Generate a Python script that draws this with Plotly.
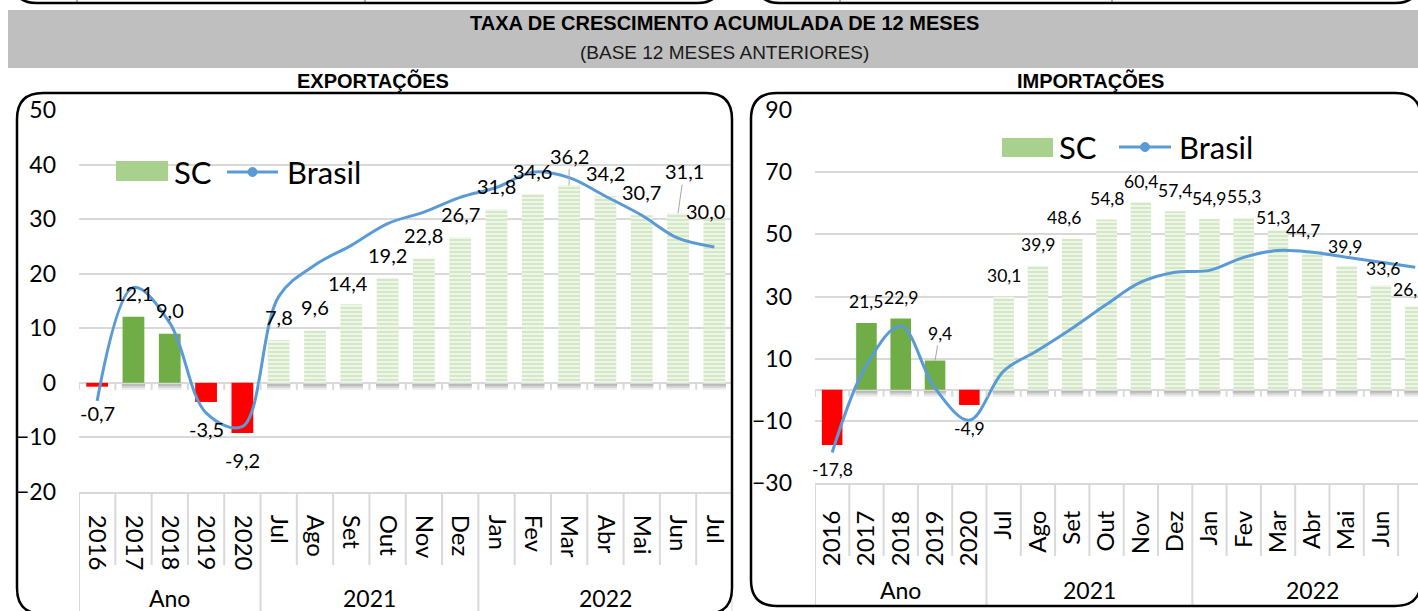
import plotly.graph_objects as go

# ---------------- data ----------------
categorias = ["2016", "2017", "2018", "2019", "2020",
              "Jul", "Ago", "Set", "Out", "Nov", "Dez",
              "Jan", "Fev", "Mar", "Abr", "Mai", "Jun", "Jul"]
grupos = ["Ano", "2021", "2022"]
grupo_tamanho = [5, 6, 7]
n_anuais = 5

exp_sc = [-0.7, 12.1, 9.0, -3.5, -9.2, 7.8, 9.6, 14.4, 19.2, 22.8, 26.7,
          31.8, 34.6, 36.2, 34.2, 30.7, 31.1, 30.0]
exp_brasil = [-3.3, 17.5, 11.0, -5.5, -8.0, 15.8, 21.6, 25.2, 29.2, 31.3, 34.0,
              35.8, 38.6, 37.6, 34.2, 30.7, 26.5, 24.9]

imp_sc = [-17.8, 21.5, 22.9, 9.4, -4.9, 30.1, 39.9, 48.6, 54.8, 60.4, 57.4,
          54.9, 55.3, 51.3, 44.7, 39.9, 33.6, 26.8]
imp_brasil = [-20.2, 8.0, 20.5, 0.5, -9.8, 6.0, 12.7, 19.8, 27.5, 34.6, 37.8,
              38.4, 42.6, 44.8, 44.2, 42.6, 41.0, 39.4]

# ---------------- page geometry (pixels) ----------------
W, H = 1418, 611
FONT = "Lato"
NARROW = "Liberation Sans Narrow, Arial Narrow, Liberation Sans"
GRID = "#D9D9D9"
VERDE = "#70AD47"
VERDE_CLARO = "#A9D18E"
VERMELHO = "#FF0000"
AZUL = "#5B9BD5"
BAR_W = 0.6


def fx(px):
    return px / W


def fy(py):
    return 1 - py / H


# panel layout: plot area in pixels, axis range, tick step, label sizes
paineis = [
    dict(nome="EXPORTAÇÕES", sc=exp_sc, br=exp_brasil, xa="x", ya="y",
         left=79, right=732.5, top=110, bottom=492, yr=(-20, 50), dtick=10,
         tick0=0, xr=(-0.5, 17.5), angle=90, sep_short=565, sep_long=620,
         grupo_y=598, title_x=373, lbl_size=20,
         leg=dict(sw=(116, 168, 161, 181), sc_x=172, ln=(227, 278), br_x=285, y=172),
         off_pos=23.5, off_neg=27,
         nudges={0: (0, 26), 7: (-3.5, 21.5), 17: (-9, 8.5)},
         leaders={13: (0, 29.5), 16: (6, 42)}),
    dict(nome="IMPORTAÇÕES", sc=imp_sc, br=imp_brasil, xa="x2", ya="y2",
         left=815, right=W, top=110, bottom=483, yr=(-30, 90), dtick=20,
         tick0=10, xr=(-0.5, (W - 815) / 34.3 - 0.5), angle=-90, sep_short=556,
         sep_long=607, grupo_y=590, title_x=1090, lbl_size=17.5,
         leg=dict(sw=(1002, 1053, 138, 157), sc_x=1057, ln=(1119, 1171), br_x=1177, y=147),
         off_pos=21, off_neg=24,
         nudges={7: (-8, 21), 13: (-5, 12.5), 14: (-9, 20.5), 15: (-1.5, 19),
                 16: (1.7, 16.5), 17: (-5, 17)},
         leaders={3: (4.6, 27)}),
]

fig = go.Figure()
shapes = []
annotations = []


def fmt(v):
    return f"{v:.1f}".replace(".", ",")


for p in paineis:
    idx = list(range(len(categorias)))
    anual_x = idx[:n_anuais]
    mensal_x = idx[n_anuais:]
    anual_y = p["sc"][:n_anuais]
    mensal_y = p["sc"][n_anuais:]

    # soft drop shadow under the base of each upward bar
    for i, v in enumerate(p["sc"]):
        if v > 0:
            for d0, d1, op in [(-1, -7, 0.10), (-1, -5, 0.14), (-1, -3, 0.18)]:
                shapes.append(dict(type="rect", xref=p["xa"], yref=p["ya"], layer="below",
                                   x0=i - BAR_W / 2 - 0.02, x1=i + BAR_W / 2 + 0.02,
                                   ysizemode="pixel", yanchor=0, y0=d0, y1=d1,
                                   fillcolor="#404040", opacity=op, line=dict(width=0)))

    fig.add_trace(go.Bar(
        x=anual_x, y=anual_y, width=BAR_W, xaxis=p["xa"], yaxis=p["ya"],
        marker=dict(color=[VERMELHO if v < 0 else VERDE for v in anual_y],
                    line=dict(width=0)),
        showlegend=False, hoverinfo="skip"))
    fig.add_trace(go.Bar(
        x=mensal_x, y=mensal_y, width=BAR_W, xaxis=p["xa"], yaxis=p["ya"],
        marker=dict(color="white", line=dict(width=0),
                    pattern=dict(shape="-", fgcolor=VERDE_CLARO, bgcolor="white",
                                 size=4, solidity=0.7)),
        showlegend=False, hoverinfo="skip"))
    fig.add_trace(go.Scatter(
        x=idx, y=p["br"], mode="lines", xaxis=p["xa"], yaxis=p["ya"],
        line=dict(color=AZUL, width=3, shape="spline", smoothing=1.0),
        showlegend=False, hoverinfo="skip"))

    # value labels
    for i, v in enumerate(p["sc"]):
        if i in p["leaders"]:
            dx, dy = p["leaders"][i]
            annotations.append(dict(
                x=i, y=v, xref=p["xa"], yref=p["ya"], text=fmt(v),
                showarrow=True, arrowhead=0, arrowwidth=1, arrowcolor="#A6A6A6",
                ax=dx, ay=-dy, standoff=0,
                font=dict(family=FONT, size=p["lbl_size"], color="black")))
            continue
        dx, dy = p["nudges"].get(i, (0, p["off_pos"] if v >= 0 else p["off_neg"]))
        annotations.append(dict(
            x=i, y=v, xref=p["xa"], yref=p["ya"], text=fmt(v), showarrow=False,
            xanchor="center", yanchor="middle",
            xshift=dx, yshift=dy if v >= 0 else -dy,
            font=dict(family=FONT, size=p["lbl_size"], color="black")))

    # tick marks along the zero line at category boundaries
    for b in range(len(categorias) + 1):
        shapes.append(dict(type="line", xref=p["xa"], yref=p["ya"],
                           x0=b - 0.5, x1=b - 0.5, ysizemode="pixel", yanchor=0,
                           y0=0, y1=-7, line=dict(color=GRID, width=2)))

    # category separators in the label band; group borders run further down
    limites = {-0.5}
    acc = 0
    for g in grupo_tamanho:
        acc += g
        limites.add(acc - 0.5)
    for b in range(len(categorias) + 1):
        xb = b - 0.5
        y_end = p["sep_long"] if xb in limites else p["sep_short"]
        shapes.append(dict(type="line", xref=p["xa"], yref="paper",
                           x0=xb, x1=xb, y0=fy(p["bottom"]), y1=fy(y_end),
                           line=dict(color=GRID, width=2)))

    # group labels
    acc = 0
    for g, n in zip(grupos, grupo_tamanho):
        annotations.append(dict(
            x=acc + (n - 1) / 2, y=fy(p["grupo_y"]), xref=p["xa"], yref="paper",
            text=g, showarrow=False, xanchor="center", yanchor="middle",
            font=dict(family=FONT, size=23, color="black")))
        acc += n

    # legend drawn in the plot corner
    lg = p["leg"]
    x0, x1, y0, y1 = lg["sw"]
    shapes.append(dict(type="rect", xref="paper", yref="paper",
                       x0=fx(x0), x1=fx(x1), y0=fy(y0), y1=fy(y1),
                       fillcolor=VERDE_CLARO, line=dict(width=0)))
    shapes.append(dict(type="line", xref="paper", yref="paper",
                       x0=fx(lg["ln"][0]), x1=fx(lg["ln"][1]),
                       y0=fy(lg["y"]), y1=fy(lg["y"]),
                       line=dict(color=AZUL, width=3)))
    cx = (lg["ln"][0] + lg["ln"][1]) / 2
    shapes.append(dict(type="circle", xref="paper", yref="paper",
                       x0=fx(cx - 4.5), x1=fx(cx + 4.5),
                       y0=fy(lg["y"] - 4.5), y1=fy(lg["y"] + 4.5),
                       fillcolor=AZUL, line=dict(color=AZUL, width=1)))
    annotations.append(dict(x=fx(lg["sc_x"]), y=fy(lg["y"]), xref="paper", yref="paper",
                            text="SC", showarrow=False, xanchor="left", yanchor="middle",
                            font=dict(family=FONT, size=31, color="black")))
    annotations.append(dict(x=fx(lg["br_x"]), y=fy(lg["y"]), xref="paper", yref="paper",
                            text="Brasil", showarrow=False, xanchor="left", yanchor="middle",
                            font=dict(family=FONT, size=31, color="black")))

    # panel title
    annotations.append(dict(x=fx(p["title_x"]), y=fy(80), xref="paper", yref="paper",
                            text="<b>" + p["nome"] + "</b>", showarrow=False,
                            xanchor="center", yanchor="middle",
                            font=dict(family=NARROW, size=20, color="black")))


def ppath(cmds):
    out = []
    for cmd, *c in cmds:
        coords = []
        for k in range(0, len(c), 2):
            coords.append(f"{fx(c[k]):.5f},{fy(c[k + 1]):.5f}")
        out.append(cmd + " " + " ".join(coords))
    return " ".join(out)


def rrect(x0, y0, x1, y1, r):
    return ppath([("M", x0 + r, y0), ("L", x1 - r, y0), ("Q", x1, y0, x1, y0 + r),
                  ("L", x1, y1 - r), ("Q", x1, y1, x1 - r, y1), ("L", x0 + r, y1),
                  ("Q", x0, y1, x0, y1 - r), ("L", x0, y0 + r),
                  ("Q", x0, y0, x0 + r, y0)]) + " Z"


# rounded frames of both chart panels
shapes.append(dict(type="path", xref="paper", yref="paper", layer="above",
                   path=rrect(17, 93, 732, 614, 26), line=dict(color="black", width=2.5)))
shapes.append(dict(type="path", xref="paper", yref="paper", layer="above",
                   path=rrect(751, 93, 1421, 606, 26), line=dict(color="black", width=2.5)))

# bottom edges of the frames of the block above
shapes.append(dict(type="path", xref="paper", yref="paper",
                   path=ppath([("M", 14, -19), ("Q", 14, 3, 36, 3), ("L", 698, 3),
                               ("Q", 720, 3, 720, -19)]),
                   line=dict(color="black", width=2.5)))
shapes.append(dict(type="path", xref="paper", yref="paper",
                   path=ppath([("M", 757, -19), ("Q", 757, 3, 779, 3), ("L", 1396, 3),
                               ("Q", 1418, 3, 1418, -19)]),
                   line=dict(color="black", width=2.5)))
for xc in (77, 365, 840, 1112):
    shapes.append(dict(type="line", xref="paper", yref="paper",
                       x0=fx(xc), x1=fx(xc), y0=fy(-2), y1=fy(2),
                       line=dict(color="#595959", width=1)))

# grey heading band
shapes.append(dict(type="rect", xref="paper", yref="paper", layer="below",
                   x0=fx(8), x1=fx(W + 2), y0=fy(10), y1=fy(68),
                   fillcolor="#BFBFBF", line=dict(width=0)))
annotations.append(dict(x=fx(724), y=fy(23), xref="paper", yref="paper",
                        text="<b>TAXA DE CRESCIMENTO ACUMULADA DE 12 MESES</b>",
                        showarrow=False, xanchor="center", yanchor="middle",
                        font=dict(family=NARROW, size=20, color="black")))
annotations.append(dict(x=fx(724), y=fy(52), xref="paper", yref="paper",
                        text="(BASE 12 MESES ANTERIORES)", showarrow=False,
                        xanchor="center", yanchor="middle",
                        font=dict(family=NARROW, size=19, color="#1a1a1a")))

layout_axes = {}
for k, p in enumerate(paineis):
    sfx = "" if k == 0 else "2"
    layout_axes["xaxis" + sfx] = dict(
        domain=[fx(p["left"]), fx(p["right"])], range=list(p["xr"]),
        anchor=p["ya"], tickmode="array", tickvals=list(range(len(categorias))),
        ticktext=categorias, tickangle=p["angle"], showgrid=False, zeroline=False,
        showline=True, linecolor=GRID, linewidth=2, ticks="", automargin=False,
        ticklabelstandoff=16, tickfont=dict(family=FONT, size=24, color="black"),
        fixedrange=True)
    layout_axes["yaxis" + sfx] = dict(
        domain=[fy(p["bottom"]), fy(p["top"])], range=list(p["yr"]),
        anchor=p["xa"], tick0=p["tick0"], dtick=p["dtick"], showgrid=True,
        gridcolor=GRID, gridwidth=2, zeroline=True, zerolinecolor=GRID,
        zerolinewidth=2, showline=False, ticks="", ticklabelstandoff=22,
        automargin=False,
        tickfont=dict(family=FONT, size=23, color="black"), fixedrange=True)

fig.update_layout(
    width=W, height=H, margin=dict(l=0, r=0, t=0, b=0, pad=0, autoexpand=False),
    paper_bgcolor="white", plot_bgcolor="white",
    barmode="overlay", bargap=0.4, showlegend=False,
    font=dict(family=FONT, color="black"),
    shapes=shapes, annotations=annotations, **layout_axes)

fig.write_html("out.html")
